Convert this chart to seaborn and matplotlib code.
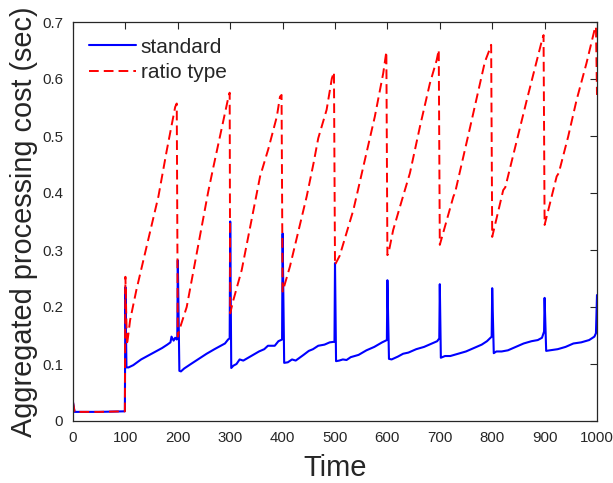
import matplotlib
matplotlib.use("Agg")
import matplotlib.pyplot as plt
import seaborn as sns
import pandas as pd

# ---- data ----
std_x = [0, 3, 50, 99,
         100, 102, 106, 115, 130, 150, 170, 180, 186, 188, 192, 195, 198, 199,
         200, 203, 206, 212, 225, 240, 255, 270, 282, 290, 296, 299,
         300, 302, 306, 312, 318, 325, 340, 355, 365, 372, 385, 392, 399,
         400, 403, 410, 418, 425, 440, 450, 458, 468, 480, 490, 499,
         500, 502, 508, 515, 522, 530, 545, 560, 575, 590, 599,
         600, 603, 608, 620, 630, 640, 655, 670, 685, 695, 699,
         700, 702, 710, 720, 735, 750, 765, 780, 790, 799,
         800, 803, 808, 818, 830, 845, 860, 875, 887, 895, 899,
         900, 903, 910, 925, 940, 955, 970, 985, 995, 998,
         1000]
std_y = [0.033, 0.016, 0.016, 0.017,
         0.235, 0.094, 0.094, 0.098, 0.108, 0.118, 0.128, 0.134, 0.138, 0.148, 0.141, 0.146, 0.143, 0.145,
         0.282, 0.088, 0.087, 0.092, 0.1, 0.109, 0.118, 0.126, 0.132, 0.136, 0.143, 0.145,
         0.35, 0.093, 0.097, 0.1, 0.108, 0.106, 0.114, 0.122, 0.126, 0.132, 0.132, 0.14, 0.143,
         0.329, 0.102, 0.103, 0.108, 0.106, 0.116, 0.123, 0.126, 0.132, 0.134, 0.138, 0.139,
         0.277, 0.105, 0.106, 0.108, 0.107, 0.112, 0.116, 0.124, 0.13, 0.138, 0.142,
         0.247, 0.109, 0.108, 0.113, 0.118, 0.12, 0.126, 0.13, 0.136, 0.14, 0.145,
         0.240, 0.111, 0.114, 0.114, 0.118, 0.122, 0.128, 0.134, 0.14, 0.148,
         0.233, 0.119, 0.122, 0.122, 0.124, 0.13, 0.136, 0.14, 0.142, 0.146, 0.157,
         0.216, 0.123, 0.124, 0.126, 0.13, 0.136, 0.138, 0.142, 0.148, 0.154,
         0.221]

ratio_x = [0, 3, 50, 99,
           100, 103, 109, 121, 163, 179, 195, 198,
           200, 203, 217, 258, 268, 297, 299,
           300, 306, 322, 357, 373, 389, 395, 398,
           400, 401, 414, 446, 459, 468, 484, 494, 498,
           500, 509, 535, 560, 576, 592, 598,
           600, 602, 611, 624, 643, 662, 681, 694, 698,
           700, 726, 729, 758, 786, 796, 798,
           800, 821, 825, 866, 895, 898,
           900, 923, 927, 945, 961, 980, 996, 998,
           1000]
ratio_y = [0.033, 0.016, 0.016, 0.017,
           0.253, 0.133, 0.177, 0.23, 0.394, 0.475, 0.551, 0.557,
           0.148, 0.16, 0.2, 0.402, 0.446, 0.57, 0.576,
           0.189, 0.212, 0.265, 0.429, 0.478, 0.534, 0.569, 0.572,
           0.227, 0.23, 0.271, 0.394, 0.452, 0.496, 0.546, 0.601, 0.612,
           0.274, 0.29, 0.37, 0.47, 0.534, 0.61, 0.648,
           0.291, 0.294, 0.335, 0.376, 0.435, 0.516, 0.592, 0.633, 0.651,
           0.309, 0.394, 0.4, 0.516, 0.63, 0.654, 0.66,
           0.323, 0.405, 0.41, 0.563, 0.668, 0.677,
           0.344, 0.429, 0.435, 0.499, 0.563, 0.628, 0.689, 0.692,
           0.572]

xticks = [0, 100, 200, 300, 400, 500, 600, 700, 800, 900, 1000]
yticks = [0, 0.1, 0.2, 0.3, 0.4, 0.5, 0.6, 0.7]
ytick_labels = ["0", "0.1", "0.2", "0.3", "0.4", "0.5", "0.6", "0.7"]

sns.set_theme(style="white")
plt.rcParams["font.family"] = ["Liberation Sans", "DejaVu Sans"]

fig = plt.figure(figsize=(6.13, 4.83), dpi=100)
ax = fig.add_axes([73 / 613, (483 - 421) / 483, (597 - 73) / 613, (421 - 22) / 483])

df_std = pd.DataFrame({"Time": std_x, "cost": std_y})
df_rat = pd.DataFrame({"Time": ratio_x, "cost": ratio_y})
sns.lineplot(data=df_std, x="Time", y="cost", ax=ax, color="#0000ff",
             linewidth=1.5, label="standard", estimator=None, sort=False)
sns.lineplot(data=df_rat, x="Time", y="cost", ax=ax, color="#ff0000",
             linewidth=1.4, linestyle=(0, (5, 2.6)), label="ratio type",
             estimator=None, sort=False)

ax.set_xlim(0, 1000)
ax.set_ylim(0, 0.7)
ax.set_xticks(xticks)
ax.set_yticks(yticks)
ax.set_yticklabels(ytick_labels)
ax.tick_params(direction="in", length=5, width=0.8, colors="#262626",
               labelsize=10.8, top=True, right=True, labelcolor="#262626", pad=7)
for s in ax.spines.values():
    s.set_color("#262626")
    s.set_linewidth(0.9)
ax.set_xlabel("Time", fontsize=21, color="#262626", labelpad=7)
ax.set_ylabel("Aggregated processing cost (sec)", fontsize=20.8, color="#262626", labelpad=3)

leg = ax.legend(loc="upper left", frameon=False, fontsize=15,
                handlelength=2.25, handletextpad=0.25, borderaxespad=0.35,
                labelspacing=0.3)

fig.savefig("out.png", dpi=100)
